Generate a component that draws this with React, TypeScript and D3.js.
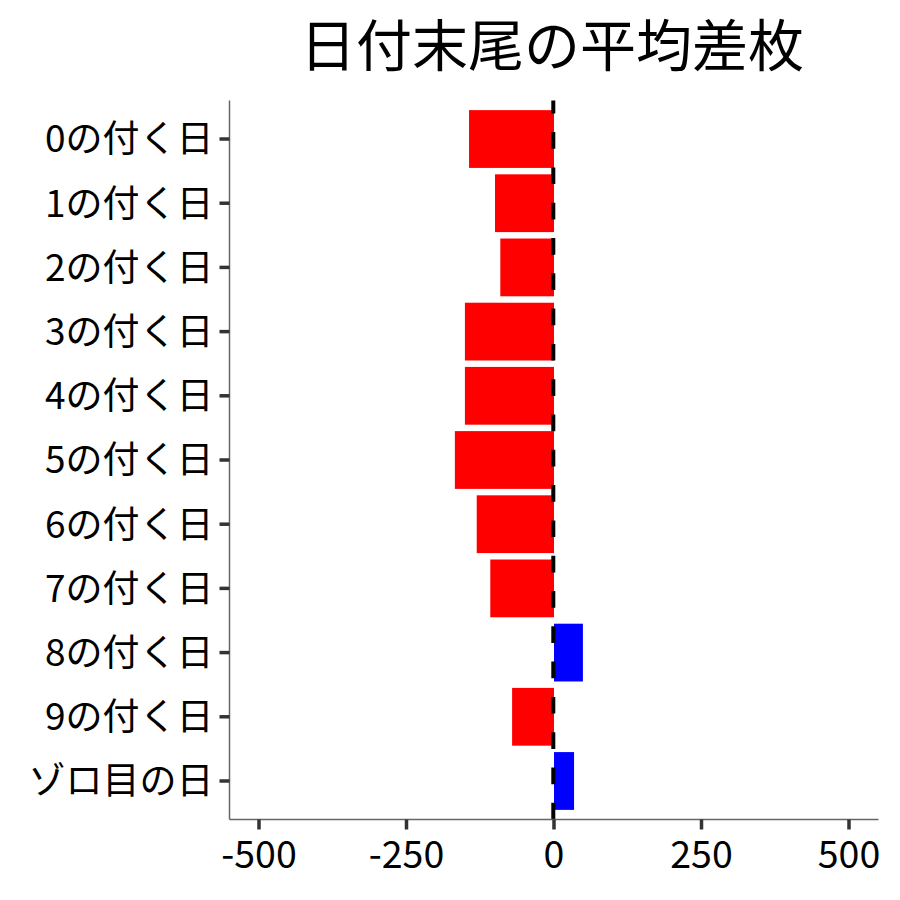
import React from "react";
import * as d3 from "d3";

const categories = [
  "0の付く日",
  "1の付く日",
  "2の付く日",
  "3の付く日",
  "4の付く日",
  "5の付く日",
  "6の付く日",
  "7の付く日",
  "8の付く日",
  "9の付く日",
  "ゾロ目の日",
];
const values = [-144, -100, -91, -151, -151, -168, -131, -108, 49, -71, 34];
const xTicks = [-500, -250, 0, 250, 500];
const title = "日付末尾の平均差枚";

const W = 900;
const H = 900;
const panel = { left: 229.5, right: 878.5, top: 100.5, bottom: 819.5 };
const FONT = "'Noto Sans CJK JP', 'Noto Sans', sans-serif";

export default function App() {
  const x = d3.scaleLinear().domain([-550, 550]).range([panel.left, panel.right]);
  const y = d3
    .scaleBand<string>()
    .domain(categories)
    .range([panel.top, panel.bottom])
    .paddingInner(0.1)
    .paddingOuter(0.15);
  const x0 = x(0);

  return (
    <svg
      width={W}
      height={H}
      style={{ position: "absolute", left: 0, top: 0, background: "#fff" }}
      fontFamily={FONT}
    >
      <rect x={0} y={0} width={W} height={H} fill="#fff" />
      <text
        x={(panel.left + panel.right) / 2 - 2}
        y={66}
        textAnchor="middle"
        fontSize={56}
        fill="#000"
      >
        {title}
      </text>
      {categories.map((c, i) => {
        const v = values[i];
        const x1 = x(Math.min(0, v));
        const x2 = x(Math.max(0, v));
        return (
          <rect
            key={c}
            x={x1}
            y={y(c)}
            width={x2 - x1}
            height={y.bandwidth()}
            fill={v < 0 ? "#FF0000" : "#0000FF"}
          />
        );
      })}
      <line
        x1={x0 - 0.7}
        x2={x0 - 0.7}
        y1={panel.bottom}
        y2={panel.top}
        stroke="#000"
        strokeWidth={4}
        strokeDasharray="16.7 18.6"
      />
      {/* axes */}
      <line x1={panel.left} x2={panel.left} y1={panel.top} y2={panel.bottom} stroke="#666" strokeWidth={1.5} />
      <line x1={panel.left} x2={panel.right} y1={panel.bottom} y2={panel.bottom} stroke="#666" strokeWidth={1.5} />
      {xTicks.map((t) => (
        <g key={t}>
          <line x1={x(t)} x2={x(t)} y1={panel.bottom} y2={panel.bottom + 10} stroke="#333" strokeWidth={3.5} />
          <text x={x(t)} y={868} textAnchor="middle" fontSize={37.5} fill="#000">
            {t}
          </text>
        </g>
      ))}
      {categories.map((c) => {
        const cy = (y(c) as number) + y.bandwidth() / 2;
        return (
          <g key={c}>
            <line x1={panel.left - 10} x2={panel.left} y1={cy} y2={cy} stroke="#333" strokeWidth={3.5} />
            <text x={panel.left - 16} y={cy} dy="0.36em" textAnchor="end" fontSize={37} fill="#000">
              {c}
            </text>
          </g>
        );
      })}
    </svg>
  );
}
